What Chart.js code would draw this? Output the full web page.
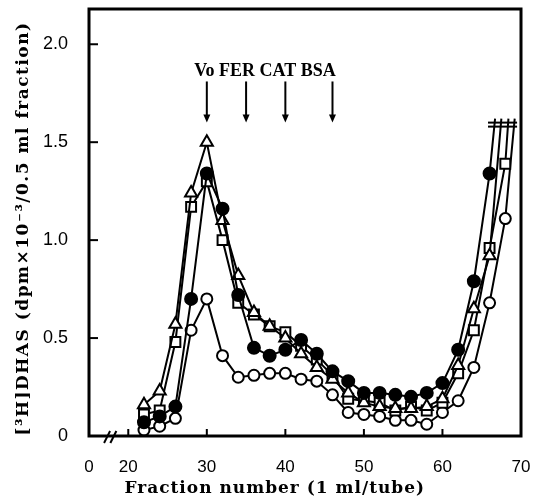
<!DOCTYPE html>
<html>
<head>
<meta charset="utf-8">
<script src="https://cdn.jsdelivr.net/npm/chart.js@4"></script>
<style>
  html, body { margin: 0; padding: 0; background: #fff; }
  #wrap { width: 533px; height: 502px; }
</style>
</head>
<body>
<div id="wrap"><canvas id="dhasChart"></canvas></div>
<script>
// Fraction numbers (1 ml/tube), every second tube
const fractions = [22, 24, 26, 28, 30, 32, 34, 36, 38, 40, 42, 44, 46, 48, 50, 52, 54, 56, 58, 60, 62, 64, 66, 68];

// [3H]DHAS, dpm x 10^-3 / 0.5 ml fraction
const filledCircle = [0.07, 0.10, 0.15, 0.70, 1.34, 1.16, 0.72, 0.45, 0.41, 0.44, 0.49, 0.42, 0.33, 0.28, 0.22, 0.22, 0.21, 0.20, 0.22, 0.27, 0.44, 0.79, 1.34];
const openTriangle = [0.16, 0.23, 0.57, 1.24, 1.50, 1.10, 0.82, 0.63, 0.56, 0.50, 0.42, 0.35, 0.29, 0.22, 0.17, 0.15, 0.14, 0.14, 0.15, 0.19, 0.36, 0.65, 0.92];
const openSquare = [0.11, 0.13, 0.48, 1.17, 1.30, 1.00, 0.68, 0.62, 0.56, 0.53, 0.46, 0.39, 0.31, 0.19, 0.18, 0.17, 0.13, 0.15, 0.13, 0.17, 0.32, 0.54, 0.96, 1.39];
const openCircle = [0.03, 0.05, 0.09, 0.54, 0.70, 0.41, 0.30, 0.31, 0.32, 0.32, 0.29, 0.28, 0.21, 0.12, 0.11, 0.10, 0.08, 0.08, 0.06, 0.12, 0.18, 0.35, 0.68, 1.11];

// curves leave the scale at the top (off-scale mark)
const offScaleLevel = 1.62;
const offScaleEnds = [66.7, 67.5, 68.4, 69.2]; // filled circle, triangle, square, open circle

// marker proteins
const markerNames = ['Vo', 'FER', 'CAT', 'BSA'];
const markerFractions = [30, 35, 40, 46];

// axis ticks
const xTickValues = [15, 20, 30, 40, 50, 60, 70];
const xTickLabels = ['0', '20', '30', '40', '50', '60', '70'];
const yTickValues = [0, 0.5, 1.0, 1.5, 2.0];

const toPoints = (vals, end) =>
  vals.map((v, i) => ({ x: fractions[i], y: v })).concat({ x: end, y: offScaleLevel });

const radii = (vals, r) => vals.map(() => r).concat(0);

const makeSet = (vals, end, style, r, fill) => ({
  data: toPoints(vals, end),
  borderColor: '#000',
  borderWidth: 2,
  pointStyle: style,
  pointRadius: radii(vals, r),
  pointBackgroundColor: fill,
  pointBorderColor: '#000',
  pointBorderWidth: 2,
  tension: 0,
  fill: false
});

// frame, inward ticks, axis break, off-scale bar, marker arrows, axis titles
const framePlugin = {
  id: 'frame',
  afterDraw(chart) {
    const { ctx, chartArea: a, scales: { x, y } } = chart;
    const line = (x1, y1, x2, y2) => {
      ctx.beginPath(); ctx.moveTo(x1, y1); ctx.lineTo(x2, y2); ctx.stroke();
    };
    ctx.save();
    ctx.strokeStyle = '#000';
    ctx.fillStyle = '#000';

    ctx.lineWidth = 3;
    ctx.strokeRect(a.left, a.top, a.right - a.left, a.bottom - a.top);

    ctx.lineWidth = 2;
    yTickValues.slice(1).forEach(v => {
      const py = y.getPixelForValue(v);
      line(a.left, py, a.left + 9, py);
    });
    xTickValues.slice(1, -1).forEach(v => {
      const px = x.getPixelForValue(v);
      line(px, a.bottom, px, a.bottom - 7);
    });

    // axis break
    [17.3, 18.1].forEach(v => {
      const px = x.getPixelForValue(v);
      line(px - 3, a.bottom + 7, px + 3, a.bottom - 5);
    });

    // off-scale bar
    const bx1 = x.getPixelForValue(65.8), bx2 = x.getPixelForValue(69.5);
    const by = y.getPixelForValue(1.6);
    line(bx1, by, bx2, by);
    line(bx1, by + 4, bx2, by + 4);

    // marker arrows
    const yTop = y.getPixelForValue(1.81), yBot = y.getPixelForValue(1.60);
    markerFractions.forEach(f => {
      const px = x.getPixelForValue(f);
      line(px, yTop, px, yBot - 6);
      ctx.beginPath();
      ctx.moveTo(px - 3.5, yBot - 8);
      ctx.lineTo(px + 3.5, yBot - 8);
      ctx.lineTo(px, yBot);
      ctx.closePath();
      ctx.fill();
    });
    ctx.font = 'bold 18px "Liberation Serif"';
    ctx.textAlign = 'left';
    ctx.textBaseline = 'alphabetic';
    ctx.fillText(markerNames.join(' '), x.getPixelForValue(28.4), y.getPixelForValue(1.84));

    // axis titles
    ctx.font = 'bold 17px "DejaVu Serif"';
    ctx.letterSpacing = '1px';
    ctx.textAlign = 'center';
    ctx.fillText('Fraction number (1 ml/tube)', a.left + (a.right - a.left) * 0.43, 493);

    ctx.letterSpacing = '1.5px';
    ctx.textBaseline = 'middle';
    ctx.translate(24, (a.top + a.bottom) / 2 + 6);
    ctx.rotate(-Math.PI / 2);
    ctx.fillText('[³H]DHAS (dpm×10⁻³/0.5 ml fraction)', 0, 0);
    ctx.restore();
  }
};

const initChart = () => {
  const ctx = document.getElementById('dhasChart').getContext('2d');
  new Chart(ctx, {
    type: 'line',
    data: {
      datasets: [
        makeSet(filledCircle, offScaleEnds[0], 'circle', 6, '#000'),
        makeSet(openTriangle, offScaleEnds[1], 'triangle', 7, '#fff'),
        makeSet(openSquare, offScaleEnds[2], 'rect', 7, '#fff'),
        makeSet(openCircle, offScaleEnds[3], 'circle', 5.5, '#fff')
      ]
    },
    options: {
      responsive: true,
      maintainAspectRatio: false,
      animation: false,
      layout: { padding: { top: 8, right: 12, left: 0, bottom: 0 } },
      plugins: { legend: { display: false }, tooltip: { enabled: false } },
      scales: {
        x: {
          type: 'linear',
          min: 15,
          max: 70,
          grid: { display: false },
          border: { display: false },
          afterBuildTicks: s => { s.ticks = xTickValues.map(value => ({ value })); },
          afterFit: s => { s.height = 66; s.paddingLeft = 0; s.paddingRight = 0; },
          ticks: {
            autoSkip: false,
            maxRotation: 0,
            padding: 13,
            color: '#000',
            font: { family: '"Liberation Sans"', size: 17 },
            callback: (v, i) => xTickLabels[i]
          }
        },
        y: {
          min: 0,
          max: 2.18,
          grid: { display: false },
          border: { display: false },
          afterBuildTicks: s => { s.ticks = yTickValues.map(value => ({ value })); },
          afterFit: s => { s.width = 89; s.paddingTop = 0; s.paddingBottom = 0; },
          ticks: {
            padding: 13,
            color: '#000',
            font: { family: '"Liberation Sans"', size: 18 },
            callback: v => (v === 0 ? '0' : v.toFixed(1))
          }
        }
      }
    },
    plugins: [framePlugin]
  });
};

document.addEventListener('DOMContentLoaded', initChart);
</script>
</body>
</html>
